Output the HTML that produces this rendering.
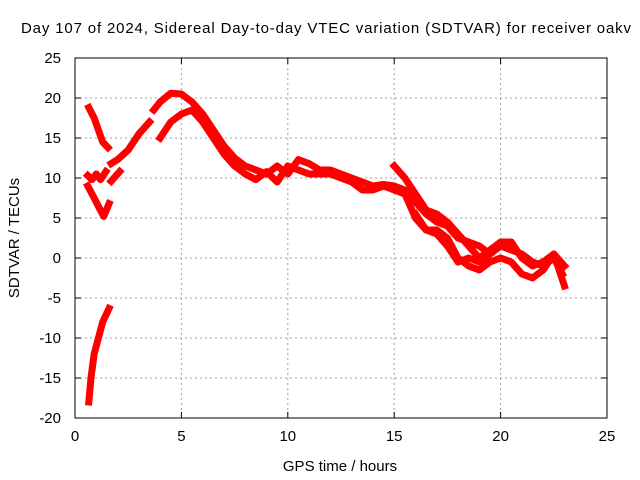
<!DOCTYPE html>
<html><head><meta charset="utf-8"><style>
body{margin:0;background:#fff}
svg{display:block;font-family:"Liberation Sans",sans-serif}
</style></head><body>
<svg id="c" width="640" height="480">
<text x="326" y="33" text-anchor="middle" font-size="15" textLength="610" lengthAdjust="spacing">Day 107 of 2024, Sidereal Day-to-day VTEC variation (SDTVAR) for receiver oakv</text>
<text x="340" y="471" text-anchor="middle" font-size="15">GPS time / hours</text>
<text transform="translate(19,238) rotate(-90)" text-anchor="middle" font-size="15">SDTVAR / TECUs</text>
<g id="grid"></g><g id="series"></g><g id="axes"></g>
</svg>
<script>
const xTicks=[0,5,10,15,20,25];
const yTicks=[-20,-15,-10,-5,0,5,10,15,20,25];
const sA=[[0.65,18.8],[0.9,17.5],[1.1,16],[1.3,14.5],[1.55,13.8]];
const sB=[[0.6,10.3],[0.8,9.8],[1.0,10.5],[1.2,9.8],[1.45,10.8]];
const sC=[[0.6,9.0],[0.9,7.5],[1.15,6.2],[1.35,5.2],[1.6,6.8]];
const sD=[[0.65,-18],[0.75,-15],[0.9,-12],[1.1,-10],[1.3,-8],[1.6,-6.3]];
const sE=[[1.7,11.8],[2.0,12.3],[2.5,13.5],[3.0,15.5],[3.5,17]];
const sF=[[1.7,9.6],[2.1,10.8]];
const sG=[[3.7,18.5],[4.0,19.5],[4.5,20.6],[5.0,20.5],[5.5,19.5],[6.0,18],[6.5,16],[7.0,14],[7.5,12.5],[8.0,11.5],[8.5,11],[9,10.5],[9.5,11.5],[10,10.5],[10.5,12.3],[11,11.8],[11.5,11],[12,11],[12.5,10.5],[13,10],[13.5,9.5],[14,9],[14.5,9.2],[15,9],[15.5,8.5],[16,7],[16.5,5.5],[17,4.5],[17.5,4],[18,2.5],[18.5,2],[19,1.5],[19.5,0.5],[20,1.5],[20.5,1],[21,0.5],[21.5,-0.5],[22,-1],[22.5,0],[22.9,-2]];
const sH=[[4.0,15],[4.5,17],[5.0,18],[5.5,18.5],[6.0,17],[6.5,15],[7.0,13],[7.5,11.5],[8,10.5],[8.5,9.8],[9,10.8],[9.5,9.5],[10,11.5],[10.5,11],[11,10.5],[11.5,10.5],[12,10.5],[12.5,10],[13,9.5],[13.5,8.5],[14,8.5],[14.5,9],[15,8.5],[15.5,8],[16,5],[16.5,3.5],[17,3.5],[17.5,2.5],[18,0],[18.5,-1],[19,-1.5],[19.5,-0.5],[20,0],[20.5,-0.5],[21,-2],[21.5,-2.5],[22,-1.5],[22.5,0.5],[23,-3.5]];
const sI=[[15,11.5],[15.5,10],[16,8],[16.5,6],[17,5.5],[17.5,4.5],[18,3],[18.5,1.5],[19,0],[19.5,1],[20,2],[20.5,2],[21,0],[21.5,-1],[22,-0.5],[22.5,0.5],[23,-1]];
const sJ=[[16,5.5],[16.5,3.5],[17,3],[17.5,1.5],[18,-0.5],[18.5,0],[19,-0.5],[19.5,0.5]];
const allSeries=[sA,sB,sC,sD,sE,sF,sG,sH,sI,sJ];
const L=75,R=607,T=58,B=418;
const xs=v=>L+(v-0)/25*(R-L);
const ys=v=>B-(v+20)/45*(B-T);
const NS="http://www.w3.org/2000/svg";
function mk(t,p,a){const e=document.createElementNS(NS,t);for(const k in a)e.setAttribute(k,a[k]);p.appendChild(e);return e;}
const grid=document.getElementById('grid'),axes=document.getElementById('axes'),ser=document.getElementById('series');
xTicks.forEach(t=>{
 if(t>0&&t<25){const g=mk('line',grid,{x1:xs(t),x2:xs(t),y1:T,y2:B,stroke:'#a0a0a0','stroke-dasharray':'2,3'});
 
 }
 mk('line',axes,{x1:xs(t),x2:xs(t),y1:B,y2:B-6,stroke:'#000'});
 mk('line',axes,{x1:xs(t),x2:xs(t),y1:T,y2:T+6,stroke:'#000'});
 const tx=mk('text',axes,{x:xs(t),y:B+23,'text-anchor':'middle','font-size':15});tx.textContent=t;
 
 
});
yTicks.forEach(t=>{
 if(t>-20&&t<25){const g=mk('line',grid,{x1:L,x2:R,y1:ys(t),y2:ys(t),stroke:'#a0a0a0','stroke-dasharray':'2,3'});
 
 }
 mk('line',axes,{x1:L,x2:L+6,y1:ys(t),y2:ys(t),stroke:'#000'});
 mk('line',axes,{x1:R,x2:R-6,y1:ys(t),y2:ys(t),stroke:'#000'});
 const tx=mk('text',axes,{x:L-14,y:ys(t)+5,'text-anchor':'end','font-size':15});tx.textContent=t;
 
 
});
const fr=mk('rect',axes,{x:L,y:T,width:R-L,height:B-T,fill:'none',stroke:'#000'});


allSeries.forEach((s,i)=>{
 const p=mk('polyline',ser,{points:s.map(d=>xs(d[0])+','+ys(d[1])).join(' '),fill:'none',stroke:'#f00','stroke-width':7,'stroke-linejoin':'round','stroke-linecap':'square'});
 
 
});
</script>
</body></html>
